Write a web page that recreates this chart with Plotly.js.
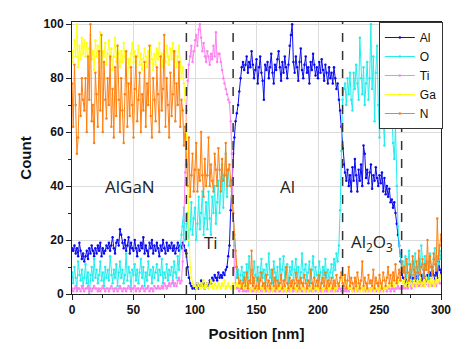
<!DOCTYPE html>
<html>
<head>
<meta charset="utf-8">
<script src="https://cdn.plot.ly/plotly-3.0.1.min.js"></script>
<style>html,body{margin:0;padding:0;background:#fff;}#chart{width:468px;height:349px;}</style>
</head>
<body>
<div id="chart"></div>
<script>
// Position step: 1 nm, starting at 0 nm
const positionStart = 0;
const positionStep = 1;

const seriesNames = ["Al", "O", "Ti", "Ga", "N"];

const al = [
17,16,18,15,17,14,19,16,13,15,
12,14,16,13,17,15,18,16,14,17,
15,18,16,19,14,17,15,16,18,17,
19,16,18,21,17,15,19,20,18,24,
22,19,17,20,16,18,21,15,19,17,
16,20,17,14,18,16,19,17,21,15,
18,16,14,19,17,20,15,18,16,19,
17,14,18,16,20,17,15,19,16,18,
17,19,16,18,15,17,19,16,18,17,
19,18,16,15,10,6,4,3,2,3,
2,3,4,2,3,5,3,4,2,3,
4,3,5,4,6,5,7,6,5,8,
6,7,6,8,7,9,10,14,18,31,
42,52,58,64,67,70,75,80,84,86,
83,85,88,82,86,84,90,85,80,83,
87,78,84,88,82,79,72,85,83,86,
80,84,89,82,78,85,83,87,90,84,
79,86,82,88,84,80,85,92,96,100,
86,82,88,84,79,86,91,83,80,85,
88,82,84,78,86,83,89,85,81,84,
80,86,82,87,83,79,85,82,78,84,
80,82,78,84,80,76,78,72,68,62,
54,48,45,42,46,40,44,38,47,42,
50,44,38,46,42,48,40,55,52,43,
46,41,45,48,39,44,42,47,43,40,
44,41,45,38,43,37,40,36,39,34,
35,32,34,30,26,22,18,12,8,6,
5,4,6,3,5,7,4,6,5,3,
6,8,5,4,7,5,9,6,4,7,
5,8,6,10,7,5,8,6,12,9,
7];

const oxygen = [
8,4,10,6,2,12,7,5,9,3,
6,11,4,8,0,7,10,5,13,6,
9,4,7,12,5,8,3,10,6,9,
5,14,7,4,9,6,11,3,8,12,
6,9,4,7,15,5,10,8,2,9,
7,11,5,9,4,8,13,6,10,3,
8,5,12,7,9,4,10,6,8,11,
5,9,7,13,4,8,6,11,5,9,
7,10,4,12,8,6,14,9,17,22,
25,32,20,26,30,18,24,34,22,28,
32,20,26,36,24,30,38,22,28,34,
24,38,28,22,36,30,40,26,34,42,
30,40,48,32,44,52,36,46,40,42,
38,30,18,10,6,9,4,7,10,5,
8,3,11,6,14,5,9,4,12,7,
5,10,3,8,13,6,9,4,11,7,
15,6,9,4,12,8,5,10,3,13,
6,9,14,5,8,11,4,10,7,12,
5,9,13,6,10,4,8,15,6,9,
11,5,8,12,4,9,14,6,10,7,
5,12,8,4,10,7,13,6,9,5,
8,11,6,13,9,15,12,18,31,53,
72,76,78,70,80,74,82,72,68,82,
76,85,78,72,95,80,74,84,70,78,
86,72,80,100,76,88,64,82,92,70,
58,72,84,66,55,80,66,88,94,62,
70,56,50,62,40,25,18,14,10,12,
8,14,6,11,16,9,5,12,7,15,
10,6,13,8,18,11,7,14,9,12,
6,15,10,8,13,17,9,14,11,16,
13];

const ti = [
2,1,2,3,1,2,2,1,3,2,
1,2,2,3,1,2,1,2,3,2,
2,1,2,1,2,3,2,1,2,2,
1,2,3,2,1,2,2,1,2,3,
2,1,2,2,1,2,3,2,1,2,
2,3,1,2,2,1,2,3,2,1,
2,2,3,1,2,2,1,3,2,2,
3,2,2,3,2,4,3,2,3,4,
3,4,5,3,4,3,5,6,4,5,
12,27,45,68,79,85,88,92,86,90,
94,96,92,98,100,95,90,93,88,86,
90,88,85,89,87,92,88,97,86,89,
89,86,83,80,78,76,74,72,71,64,
52,30,10,4,2,3,1,2,2,1,
2,1,1,2,1,2,1,1,2,1,
1,2,1,1,2,1,2,1,1,2,
1,1,2,1,2,1,1,2,1,1,
2,1,1,2,1,1,2,1,2,1,
1,2,1,1,2,1,2,1,1,2,
1,1,2,1,2,1,1,2,1,2,
1,2,1,1,2,1,2,1,1,2,
1,2,1,2,1,2,1,2,2,1,
2,1,2,1,2,1,2,2,1,2,
1,2,1,2,1,2,2,1,2,1,
2,1,2,2,1,2,1,2,1,2,
2,1,2,1,2,2,1,2,2,1,
2,2,1,2,2,3,2,2,3,2,
3,2,3,2,3,3,2,3,4,3,
3,4,3,3,4,3,4,3,4,4,
3,4,4,3,5,4,3,4,5,4,
4];

const ga = [
90,86,94,88,100,84,92,87,95,89,
94,88,93,85,91,96,87,90,83,94,
88,92,86,97,84,90,88,93,85,89,
94,87,91,83,88,95,86,92,89,84,
90,86,93,88,82,77,87,84,89,93,
86,90,84,88,92,85,89,83,87,91,
88,84,90,86,92,87,83,89,85,91,
87,93,85,89,84,90,86,92,88,85,
91,87,93,86,90,84,88,92,86,80,
84,78,72,60,40,20,10,6,4,3,
3,2,4,3,2,4,3,5,2,3,
4,2,3,5,3,2,4,3,2,4,
3,2,4,3,5,2,3,4,3,2,
3,4,2,3,4,3,5,3,4,2,
3,2,4,2,3,1,2,3,2,1,
2,3,1,2,3,2,1,2,3,2,
1,2,3,1,2,3,2,1,2,3,
2,1,3,2,1,2,3,2,1,2,
3,2,1,2,3,1,2,3,2,1,
2,3,1,2,2,3,1,2,3,2,
1,2,3,2,1,2,3,2,2,1,
2,3,2,1,3,2,3,4,5,6,
7,6,5,4,3,2,3,2,1,2,
2,1,2,3,1,2,2,1,3,2,
1,2,2,1,3,2,1,2,2,1,
2,3,1,2,2,3,2,3,3,4,
3,4,3,4,5,4,5,6,5,4,
5,3,4,6,3,5,4,3,5,4,
3,5,4,6,3,4,5,3,6,4,
5,3,6,4,5,3,6,4,5,7,
6];

const nitrogen = [
78,62,85,70,52,58,74,66,80,72,
68,80,60,88,72,100,64,70,56,82,
74,62,90,68,96,60,86,72,65,80,
70,88,62,76,58,84,66,92,72,60,
80,68,56,74,90,62,78,66,84,70,
58,76,88,64,72,82,60,74,68,86,
62,78,70,92,66,58,80,72,64,84,
74,60,88,68,76,96,62,80,70,58,
82,66,74,90,64,78,70,86,62,72,
68,55,62,48,40,58,36,44,52,38,
46,56,38,46,42,60,44,36,50,40,
44,58,40,48,42,38,52,46,40,54,
46,38,50,42,44,56,40,46,48,40,
36,30,22,16,10,6,4,5,2,4,
6,3,8,2,5,4,16,3,6,2,
3,6,2,5,8,3,4,2,7,3,
5,2,4,9,3,6,2,5,3,4,
7,2,5,3,10,4,2,6,3,5,
2,4,8,3,5,2,6,4,3,7,
4,2,5,3,9,4,2,6,3,5,
3,7,2,4,6,3,8,2,5,3,
4,6,2,5,3,7,4,3,6,8,
4,3,7,2,5,10,3,6,4,2,
6,3,8,4,2,5,12,3,6,4,
2,7,4,5,3,9,2,6,4,3,
7,4,2,8,5,3,6,10,4,7,
3,8,5,11,4,6,9,5,12,8,
10,6,13,8,5,11,7,14,9,6,
12,8,16,7,10,13,6,11,9,20,
8,14,10,7,15,11,9,28,13,18,
22];

const interfaces = [93, 131, 220, 268];
const regionLabels = ["AlGaN", "Ti", "Al", "Al<sub>2</sub>O<sub>3</sub>"];
const regionLabelX = [47, 113, 175, 244];
const regionLabelY = [40, 19, 40, 19];

const seriesValues = [al, oxygen, ti, ga, nitrogen];
const seriesColors = ["#0a0af0", "#22eeee", "#ff80f0", "#ffff10", "#ff8010"];

const traces = seriesValues.map((vals, i) => ({
  type: "scatter",
  mode: "lines+markers",
  name: seriesNames[i],
  x0: positionStart,
  dx: positionStep,
  y: vals,
  line: {color: seriesColors[i], width: 1},
  marker: {color: seriesColors[i], size: 2.5}
}));

const shapes = interfaces.map(x => ({
  type: "line", xref: "x", yref: "paper", x0: x, x1: x, y0: 0, y1: 1,
  line: {color: "#333", width: 1.5, dash: "dash"}
}));

const annotations = regionLabels.map((t, i) => ({
  text: t, x: regionLabelX[i], y: regionLabelY[i], xref: "x", yref: "y",
  showarrow: false, font: {family: "Open Sans, sans-serif", size: 17, color: "#222"}
}));

const axisCommon = {
  showline: true, linecolor: "#222", linewidth: 1, mirror: true,
  ticks: "outside", ticklen: 5, tickwidth: 1, tickcolor: "#222",
  showgrid: true, gridcolor: "#dcdcdc", gridwidth: 1, zeroline: false,
  tickfont: {family: "Liberation Sans, Arial, sans-serif", size: 12, color: "#111", weight: "bold"}
};

const layout = {
  width: 468, height: 349,
  margin: {l: 72, r: 27, t: 22, b: 55},
  paper_bgcolor: "#fff", plot_bgcolor: "#fff",
  showlegend: true,
  xaxis: Object.assign({}, axisCommon, {
    range: [0, 300], dtick: 50, tick0: 0,
    minor: {ticks: "outside", ticklen: 3, dtick: 25, tickcolor: "#222", showgrid: false},
    title: {text: "Position [nm]", standoff: 12, font: {family: "Liberation Sans, Arial, sans-serif", size: 15, color: "#111", weight: "bold"}}
  }),
  yaxis: Object.assign({}, axisCommon, {
    range: [0, 100.8], dtick: 20, tick0: 0,
    minor: {ticks: "outside", ticklen: 3, dtick: 10, tickcolor: "#222", showgrid: false},
    title: {text: "Count", standoff: 8, font: {family: "Liberation Sans, Arial, sans-serif", size: 15, color: "#111", weight: "bold"}}
  }),
  legend: {
    x: 1.005, xanchor: "right", y: 1, yanchor: "top",
    bgcolor: "#fff", bordercolor: "#333", borderwidth: 1,
    font: {family: "Liberation Sans, Arial, sans-serif", size: 12, color: "#111"},
    itemwidth: 30, tracegroupgap: 0
  },
  shapes: shapes,
  annotations: annotations
};

Plotly.newPlot("chart", traces, layout, {staticPlot: true, displayModeBar: false});
</script>
</body>
</html>
